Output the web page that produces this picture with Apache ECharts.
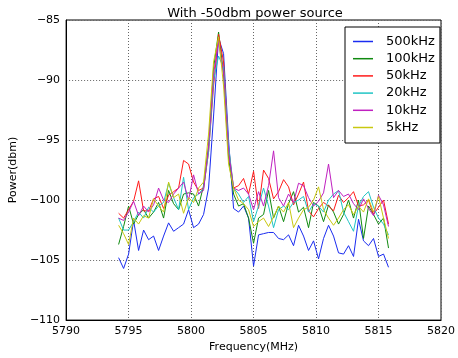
<!DOCTYPE html>
<html>
<head>
<meta charset="utf-8">
<script src="https://cdn.jsdelivr.net/npm/echarts@6/dist/echarts.min.js"></script>
<style>
html,body{margin:0;padding:0;background:#fff;}
#chart{width:458px;height:358px;}
</style>
</head>
<body>
<div id="chart"></div>
<script>
var titleText = 'With -50dbm power source';
var xName = 'Frequency(MHz)';
var yName = 'Power(dbm)';
var seriesNames = ['500kHz', '100kHz', '50kHz', '20kHz', '10kHz', '5kHz'];
var seriesColors = ['#1a2cf0', '#108a10', '#ff1a1a', '#20c4c4', '#c020c0', '#c8c810'];

var freq = [5794.2, 5794.6, 5795.0, 5795.4, 5795.8, 5796.2, 5796.6, 5797.0, 5797.4, 5797.8,
  5798.2, 5798.6, 5799.0, 5799.4, 5799.8, 5800.2, 5800.6, 5801.0, 5801.4, 5801.8,
  5802.2, 5802.6, 5803.0, 5803.4, 5803.8, 5804.2, 5804.6, 5805.0, 5805.4, 5805.8,
  5806.2, 5806.6, 5807.0, 5807.4, 5807.8, 5808.2, 5808.6, 5809.0, 5809.4, 5809.8,
  5810.2, 5810.6, 5811.0, 5811.4, 5811.8, 5812.2, 5812.6, 5813.0, 5813.4, 5813.8,
  5814.2, 5814.6, 5815.0, 5815.4, 5815.8];

var s500k = [-104.8, -105.7, -104.5, -101.7, -104.2, -102.5, -103.3, -103.0, -104.2, -103.0,
  -101.9, -102.6, -102.3, -102.0, -100.8, -102.3, -102.0, -101.2, -99.0, -93.0,
  -86.5, -87.8, -95.0, -100.7, -101.0, -100.5, -101.5, -105.5, -102.9, -102.8,
  -102.7, -102.7, -103.2, -103.3, -102.9, -103.8, -102.1, -103.0, -104.2, -103.4,
  -104.9, -103.2, -102.1, -103.0, -104.4, -104.5, -103.8, -104.7, -101.6, -103.4,
  -103.8, -103.2, -104.7, -104.5, -105.6];

var s100k = [-103.7, -102.2, -100.5, -102.0, -101.2, -100.8, -101.5, -101.0, -100.2, -101.5,
  -99.2, -100.3, -100.8, -99.5, -99.4, -99.5, -100.5, -98.8, -95.5, -89.0,
  -86.0, -89.5, -96.5, -99.5, -100.5, -100.3, -101.5, -103.6, -101.5, -101.2,
  -99.2, -101.5, -100.5, -101.8, -100.3, -99.3, -101.0, -100.6, -102.3, -100.2,
  -100.5, -101.8, -100.4, -101.0, -102.0, -101.2, -100.0, -101.5, -100.0, -103.2,
  -100.5, -101.2, -102.0, -101.5, -104.0];

var s50k = [-101.1, -101.5, -100.8, -100.1, -98.4, -100.9, -100.9, -99.9, -99.7, -100.7,
  -99.6, -99.3, -99.0, -96.7, -97.0, -98.5, -99.2, -99.0, -96.0, -90.5,
  -86.2, -88.5, -95.7, -99.0, -98.8, -98.2, -99.5, -97.6, -100.7, -97.5,
  -98.2, -99.9, -99.3, -98.3, -98.9, -100.4, -99.5, -98.5, -100.9, -101.4,
  -100.7, -100.2, -100.5, -100.9, -99.6, -100.2, -99.8, -99.3, -100.5, -100.4,
  -100.0, -101.2, -100.6, -100.0, -102.0];

var s20k = [-101.5, -102.5, -102.5, -101.8, -101.0, -101.5, -100.6, -101.0, -100.5, -100.2,
  -98.6, -99.8, -100.8, -98.1, -100.8, -99.8, -99.5, -99.0, -96.0, -90.0,
  -88.0, -89.0, -95.5, -99.0, -99.5, -100.2, -99.7, -101.8, -100.5, -99.0,
  -100.5, -102.3, -100.8, -100.5, -100.8, -100.2, -100.0, -99.7, -101.0, -100.3,
  -100.5, -101.0, -100.0, -99.5, -99.2, -101.0, -101.8, -102.6, -100.5, -99.7,
  -99.3, -100.6, -101.5, -102.0, -102.9];

var s10k = [-101.5, -101.7, -101.0, -100.1, -101.3, -100.5, -101.0, -100.4, -99.0, -100.0,
  -100.2, -99.5, -99.0, -98.5, -100.0, -97.9, -99.5, -99.2, -95.5, -89.5,
  -86.8, -89.5, -96.0, -99.0, -99.2, -99.0, -99.5, -100.8, -99.3, -100.5,
  -98.8, -95.9, -99.8, -100.5, -99.5, -100.2, -98.6, -98.8, -99.8, -100.5,
  -100.1, -99.4, -97.0, -99.8, -99.2, -99.7, -99.5, -100.3, -100.8, -99.9,
  -100.7, -101.3, -99.6, -100.4, -102.2];

var s5k = [-102.1, -102.8, -103.7, -101.5, -102.0, -101.3, -101.5, -99.9, -100.5, -101.0,
  -98.5, -99.8, -99.5, -101.1, -99.8, -100.2, -99.0, -98.5, -94.5, -88.5,
  -86.4, -90.5, -97.0, -99.0, -100.0, -100.3, -100.8, -102.2, -101.8, -101.5,
  -102.2, -101.4, -100.5, -101.0, -100.2, -102.3, -101.5, -100.8, -100.6, -100.0,
  -98.9, -100.8, -101.5, -102.1, -101.5, -100.8, -100.4, -101.2, -100.5, -101.0,
  -99.9, -101.0, -99.7, -101.5, -103.2];

var allValues = [s500k, s100k, s50k, s20k, s10k, s5k];

var FONT = 'DejaVu Sans';
function pairs(vals) {
  return vals.map(function (v, i) { return [freq[i], v]; });
}
var series = seriesNames.map(function (name, k) {
  return {
    name: name,
    type: 'line',
    data: pairs(allValues[k]),
    symbol: 'none',
    color: seriesColors[k],
    itemStyle: { color: seriesColors[k] },
    lineStyle: { width: 1, color: seriesColors[k] },
    animation: false
  };
});

var chart = echarts.init(document.getElementById('chart'), null, { renderer: 'canvas' });
chart.setOption({
  animation: false,
  backgroundColor: '#ffffff',
  title: {
    text: titleText,
    left: 250,
    textAlign: 'center',
    top: 2,
    textStyle: { fontFamily: FONT, fontSize: 13, fontWeight: 'normal', color: '#000' }
  },
  grid: {
    left: 53, right: 11, top: 20, bottom: 35,
    show: true, borderColor: '#000', borderWidth: 1, backgroundColor: 'transparent'
  },
  legend: {
    orient: 'vertical',
    left: 345,
    top: 27,
    data: seriesNames.map(function (n) { return { name: n, icon: 'rect' }; }),
    itemWidth: 20,
    itemHeight: 1.5,
    itemGap: 4.2,
    padding: [8, 5, 9, 8],
    borderColor: '#000',
    borderWidth: 1,
    backgroundColor: '#fff',
    textStyle: { fontFamily: FONT, fontSize: 13, color: '#000', padding: [0, 0, 0, 8] }
  },
  xAxis: {
    type: 'value',
    min: 5790, max: 5820, interval: 5,
    name: xName,
    nameLocation: 'middle',
    nameGap: 21,
    nameTextStyle: { fontFamily: FONT, fontSize: 11, color: '#000' },
    axisLine: { show: true, onZero: false, lineStyle: { color: '#000', width: 1 } },
    axisTick: { show: false },
    axisLabel: {
      fontFamily: FONT, fontSize: 11, color: '#000', margin: 6,
      formatter: function (v) { return String(v); }
    },
    splitLine: { show: true, lineStyle: { color: '#666', width: 1, type: [1, 2] } }
  },
  yAxis: {
    type: 'value',
    min: -110, max: -85, interval: 5,
    name: yName,
    nameLocation: 'middle',
    nameGap: 36,
    nameTextStyle: { fontFamily: FONT, fontSize: 11, color: '#000' },
    axisLine: { show: true, onZero: false, lineStyle: { color: '#000', width: 1 } },
    axisTick: { show: false },
    axisLabel: {
      fontFamily: FONT, fontSize: 11, color: '#000', margin: 6,
      formatter: function (v) { return String(v).replace('-', '\u2212'); }
    },
    splitLine: { show: true, lineStyle: { color: '#666', width: 1, type: [1, 2] } }
  },
  series: series
});
</script>
</body>
</html>
